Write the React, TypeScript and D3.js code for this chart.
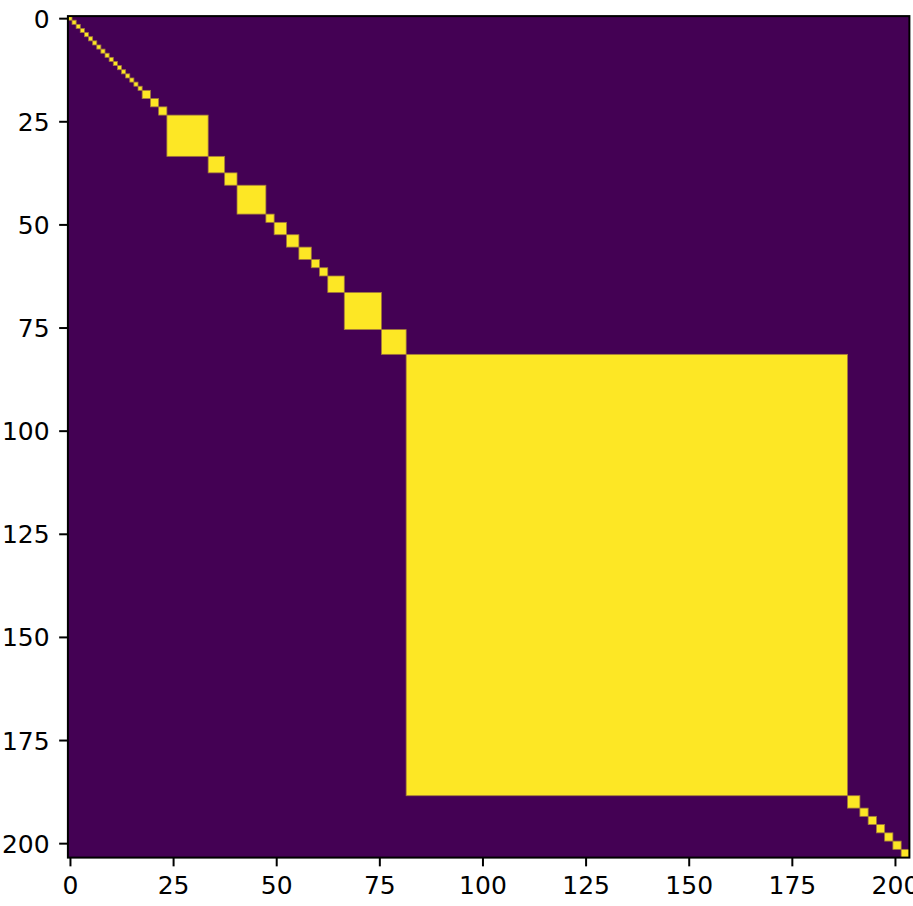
import React, {useEffect, useRef} from 'react';
import * as d3 from 'd3';

// sizes of the square blocks along the diagonal, in matrix order
const blockSizes = [
  1, 1, 1, 1, 1, 1, 1, 1, 1, 1, 1, 1, 1, 1, 1, 1, 1, 1,
  2, 2, 2,
  10, 4, 3, 7, 2, 3, 3, 3, 2, 2, 4, 9, 6,
  107,
  3, 2, 2, 2, 2, 2, 2,
];
const tickValues = [0, 25, 50, 75, 100, 125, 150, 175, 200];
const cellValues = [0, 1];
const cellColors = ['#440154', '#fde725'];

export default function App() {
  const svgRef = useRef<SVGSVGElement>(null);

  useEffect(() => {
    const w = 913;
    const h = 906;
    const left = 67.9;
    const top = 16.1;
    const n = d3.sum(blockSizes);
    const side = n * 4.125;

    const svg = d3.select(svgRef.current)
      .attr('width', w)
      .attr('height', h);
    svg.selectAll('*').remove();

    const x = d3.scaleLinear().domain([-0.5, n - 0.5]).range([left, left + side]);
    const y = d3.scaleLinear().domain([-0.5, n - 0.5]).range([top, top + side]);
    const color = d3.scaleOrdinal<number, string>().domain(cellValues).range(cellColors);

    // block start offsets
    const starts = blockSizes.map((s, i) => d3.sum(blockSizes.slice(0, i)));
    const blocks = blockSizes.map((s, i) => ({start: starts[i], size: s}));

    // background (zeros)
    svg.append('rect')
      .attr('x', x(-0.5))
      .attr('y', y(-0.5))
      .attr('width', x(n - 0.5) - x(-0.5))
      .attr('height', y(n - 0.5) - y(-0.5))
      .attr('fill', color(0));

    // ones on the diagonal blocks
    svg.append('g')
      .selectAll('rect')
      .data(blocks)
      .join('rect')
        .attr('x', d => x(d.start - 0.5))
        .attr('y', d => y(d.start - 0.5))
        .attr('width', d => x(d.start + d.size - 0.5) - x(d.start - 0.5))
        .attr('height', d => y(d.start + d.size - 0.5) - y(d.start - 0.5))
        .attr('fill', color(1))
        .attr('stroke', '#a2783c')
        .attr('stroke-width', 0.8);

    const font = '"DejaVu Sans", sans-serif';

    const xAxis = svg.append('g')
      .attr('transform', `translate(0,${top + side})`)
      .call(d3.axisBottom(x).tickValues(tickValues).tickSize(8.75).tickPadding(8.75));
    const yAxis = svg.append('g')
      .attr('transform', `translate(${left},0)`)
      .call(d3.axisLeft(y).tickValues(tickValues).tickSize(8.75).tickPadding(9.5));

    [xAxis, yAxis].forEach(g => {
      g.select('.domain').remove();
      g.selectAll('line').attr('stroke', '#000').attr('stroke-width', 2);
      g.selectAll('text')
        .attr('fill', '#000')
        .style('font-family', font)
        .style('font-size', '25px');
    });
    xAxis.selectAll('text').attr('dy', '0.76em');
    yAxis.selectAll('text').attr('dy', '0.36em');

    // frame
    svg.append('rect')
      .attr('x', left)
      .attr('y', top)
      .attr('width', side)
      .attr('height', side)
      .attr('fill', 'none')
      .attr('stroke', '#000')
      .attr('stroke-width', 2);
  }, []);

  return (
    <svg ref={svgRef} style={{position: 'absolute', left: 0, top: 0, background: '#fff'}}></svg>
  );
}
